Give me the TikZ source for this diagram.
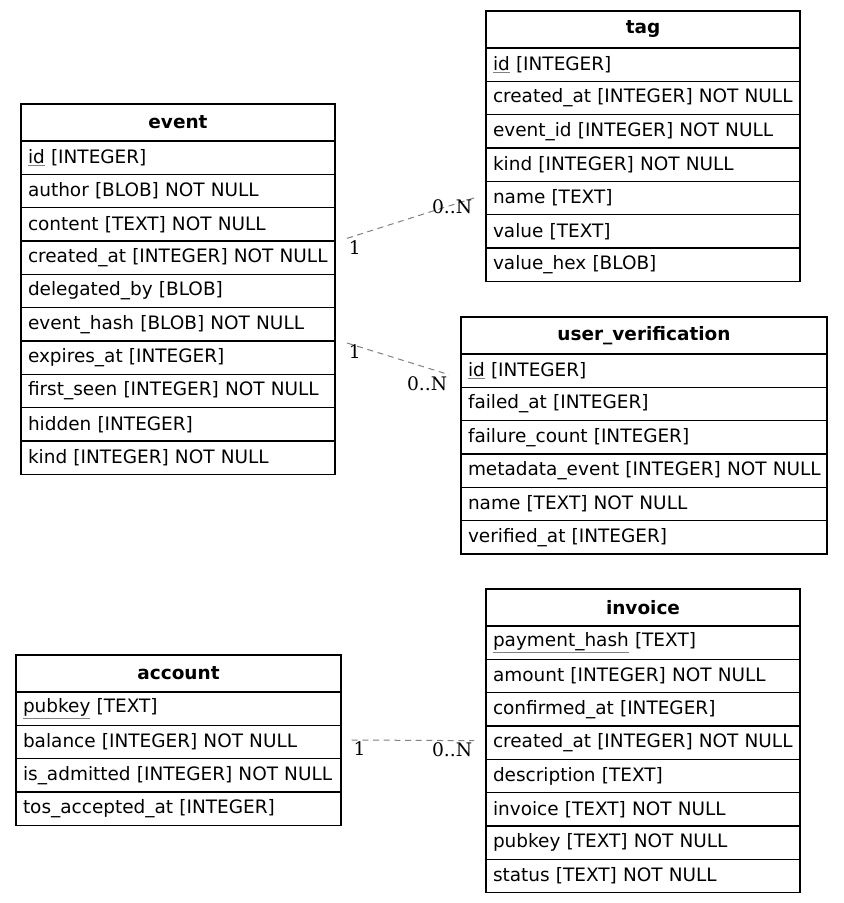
\documentclass[tikz,border=0pt]{standalone}
\usepackage{fontspec}
\setmainfont{DejaVu Sans}
\newfontfamily\cardfont{DejaVu Serif}
\usetikzlibrary{positioning, calc}

% primary key: grey underline under the field name
\newcommand{\pkey}[1]{\rlap{\color{gray}\underline{\phantom{#1}}}#1}

\tikzset{
  tbltitle/.style={draw, line width=1pt, outer sep=0pt, anchor=north west, minimum height=27.75pt,
    inner xsep=5.25pt, inner ysep=2pt, align=center, font=\fontsize{13.85}{17}\selectfont\bfseries},
  tblrow/.style={draw, line width=1pt, outer sep=0pt, minimum height=25pt, inner xsep=5.25pt,
    inner ysep=2pt, align=left, font=\fontsize{13.85}{17}\selectfont},
  rel/.style={draw=gray, line width=0.75pt, dash pattern=on 4.5pt off 3.5pt},
  card/.style={inner sep=1pt, font=\fontsize{14}{17}\cardfont}
}

\begin{document}
\begin{tikzpicture}[x=0.75pt, y=-0.75pt]
  \useasboundingbox (0,0) rectangle (843,903);

  % event
  \begin{scope}[nodes={text width=225pt}]
    \node[tbltitle, alias=event-0] (event) at (21,104) {event};
    \foreach \f [count=\i, remember=\i as \j (initially 0)] in
      {{\pkey{id} [INTEGER]}, {author [BLOB] NOT NULL}, {content [TEXT] NOT NULL},
       {created\_at [INTEGER] NOT NULL}, {delegated\_by [BLOB]}, {event\_hash [BLOB] NOT NULL},
       {expires\_at [INTEGER]}, {first\_seen [INTEGER] NOT NULL}, {hidden [INTEGER]},
       {kind [INTEGER] NOT NULL}}
      \node[tblrow, below=0pt of event-\j] (event-\i) {\mbox{\f}};
  \end{scope}

  % tag
  \begin{scope}[nodes={text width=225pt}]
    \node[tbltitle, alias=tag-0] (tag) at (486,11) {tag};
    \foreach \f [count=\i, remember=\i as \j (initially 0)] in
      {{\pkey{id} [INTEGER]}, {created\_at [INTEGER] NOT NULL}, {event\_id [INTEGER] NOT NULL},
       {kind [INTEGER] NOT NULL}, {name [TEXT]}, {value [TEXT]}, {value\_hex [BLOB]}}
      \node[tblrow, below=0pt of tag-\j] (tag-\i) {\mbox{\f}};
  \end{scope}

  % user_verification
  \begin{scope}[nodes={text width=264pt}]
    \node[tbltitle, alias=uv-0] (uv) at (461,317) {user\_verification};
    \foreach \f [count=\i, remember=\i as \j (initially 0)] in
      {{\pkey{id} [INTEGER]}, {failed\_at [INTEGER]}, {failure\_count [INTEGER]},
       {metadata\_event [INTEGER] NOT NULL}, {name [TEXT] NOT NULL}, {verified\_at [INTEGER]}}
      \node[tblrow, below=0pt of uv-\j] (uv-\i) {\mbox{\f}};
  \end{scope}

  % account
  \begin{scope}[nodes={text width=233.25pt}]
    \node[tbltitle, alias=account-0] (account) at (16,655) {account};
    \foreach \f [count=\i, remember=\i as \j (initially 0)] in
      {{\pkey{pubkey} [TEXT]}, {balance [INTEGER] NOT NULL}, {is\_admitted [INTEGER] NOT NULL},
       {tos\_accepted\_at [INTEGER]}}
      \node[tblrow, below=0pt of account-\j] (account-\i) {\mbox{\f}};
  \end{scope}

  % invoice
  \begin{scope}[nodes={text width=225pt}]
    \node[tbltitle, alias=invoice-0] (invoice) at (486,589) {invoice};
    \foreach \f [count=\i, remember=\i as \j (initially 0)] in
      {{\pkey{payment\_hash} [TEXT]}, {amount [INTEGER] NOT NULL}, {confirmed\_at [INTEGER]},
       {created\_at [INTEGER] NOT NULL}, {description [TEXT]}, {invoice [TEXT] NOT NULL},
       {pubkey [TEXT] NOT NULL}, {status [TEXT] NOT NULL}}
      \node[tblrow, below=0pt of invoice-\j] (invoice-\i) {\mbox{\f}};
  \end{scope}

  % relation ends
  \coordinate (e-tag) at ([xshift=9pt, yshift=2pt]event-3.south east);
  \coordinate (tag-e) at ([xshift=-9pt]tag-5.west);
  \coordinate (e-uv) at ([xshift=9pt, yshift=-1.5pt]event-7.north east);
  \coordinate (uv-e) at ([xshift=-9pt, yshift=-3pt]uv-1.west);
  \coordinate (acc-inv) at ([xshift=8pt, yshift=1.5pt]account-2.east);
  \coordinate (inv-acc) at ([xshift=-9pt, yshift=1.5pt]invoice-4.west);

  % relations
  \draw[rel] (e-tag) -- (tag-e)
    node[card, pos=0, anchor=north west] {1}
    node[card, pos=1, anchor=north east] {0..N};
  \draw[rel] (e-uv) -- (uv-e)
    node[card, pos=0, anchor=north west] {1}
    node[card, pos=1, anchor=north east] {0..N};
  \draw[rel] (acc-inv) -- (inv-acc)
    node[card, pos=0, anchor=north west] {1}
    node[card, pos=1, anchor=north east] {0..N};
\end{tikzpicture}
\end{document}
